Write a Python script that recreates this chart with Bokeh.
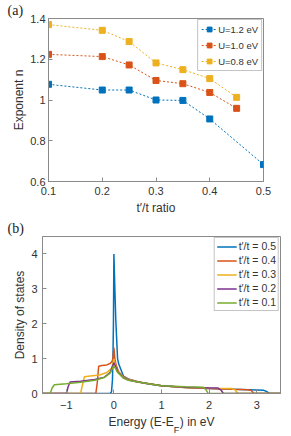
from bokeh.plotting import figure
from bokeh.layouts import column, row
from bokeh.models import (LinearAxis, FixedTicker, Legend, LegendItem, Range1d)
from bokeh.embed import file_html
from bokeh.resources import INLINE

# ---------- data panel (a) ----------
ratio_12 = [0.1, 0.2, 0.25, 0.3, 0.35, 0.4, 0.5]
n_12 = [1.077, 1.049, 1.049, 1.0, 0.998, 0.907, 0.683]
ratio_10 = [0.1, 0.2, 0.25, 0.3, 0.35, 0.4, 0.45]
n_10 = [1.224, 1.213, 1.172, 1.096, 1.08, 1.037, 0.959]
ratio_08 = [0.1, 0.2, 0.25, 0.3, 0.35, 0.4, 0.45]
n_08 = [1.37, 1.342, 1.287, 1.182, 1.149, 1.105, 1.013]
labels_a = ["U=1.2 eV", "U=1.0 eV", "U=0.8 eV"]
xticks_a = [0.1, 0.2, 0.3, 0.4, 0.5]
yticks_a = [0.6, 0.8, 1.0, 1.2, 1.4]
ytick_labels_a = ["0.6", "0.8", "1", "1.2", "1.4"]

# ---------- data panel (b) ----------
e_05 = [-1.5, -0.08, -0.05, -0.03, -0.02, -0.01, 0.0, 0.02, 0.04, 0.077, 0.1, 0.2, 0.3, 0.5, 0.7, 1.0, 1.5, 2.0, 2.5, 3.0, 3.15, 3.22, 3.27, 3.5]
d_05 = [0.0, 0.0, 0.05, 0.4, 1.0, 2.0, 4.0, 3.0, 2.1, 1.0, 0.85, 0.5, 0.42, 0.34, 0.28, 0.22, 0.17, 0.14, 0.12, 0.1, 0.09, 0.05, 0.0, 0.0]
e_04 = [-1.5, -0.38, -0.35, -0.32, -0.25, -0.15, -0.08, -0.04, -0.02, 0.0, 0.02, 0.05, 0.1, 0.2, 0.3, 0.5, 0.7, 1.0, 1.5, 2.0, 2.5, 2.8, 2.88, 2.94, 3.5]
d_04 = [0.0, 0.0, 0.3, 0.78, 0.8, 0.82, 0.86, 0.92, 1.0, 1.32, 1.0, 0.8, 0.62, 0.48, 0.41, 0.34, 0.29, 0.22, 0.17, 0.14, 0.12, 0.11, 0.09, 0.0, 0.0]
e_03 = [-1.5, -0.7, -0.66, -0.62, -0.5, -0.3, -0.15, -0.05, 0.0, 0.05, 0.1, 0.2, 0.3, 0.5, 1.0, 1.5, 2.0, 2.48, 2.55, 2.6, 3.5]
d_03 = [0.0, 0.0, 0.25, 0.48, 0.5, 0.53, 0.6, 0.72, 0.98, 0.72, 0.6, 0.47, 0.4, 0.33, 0.22, 0.17, 0.15, 0.14, 0.1, 0.0, 0.0]
e_02 = [-1.5, -1.0, -0.96, -0.92, -0.7, -0.4, -0.2, -0.08, 0.0, 0.08, 0.2, 0.3, 0.5, 1.0, 1.5, 2.0, 2.18, 2.25, 2.3, 3.5]
d_02 = [0.0, 0.0, 0.2, 0.33, 0.35, 0.4, 0.47, 0.6, 0.88, 0.62, 0.45, 0.39, 0.33, 0.22, 0.18, 0.16, 0.16, 0.1, 0.0, 0.0]
e_01 = [-1.5, -1.34, -1.3, -1.25, -1.0, -0.7, -0.4, -0.2, -0.08, 0.0, 0.08, 0.2, 0.3, 0.5, 1.0, 1.5, 1.88, 1.93, 1.98, 3.5]
d_01 = [0.0, 0.0, 0.15, 0.25, 0.28, 0.32, 0.38, 0.46, 0.58, 0.8, 0.6, 0.44, 0.38, 0.33, 0.22, 0.19, 0.18, 0.12, 0.0, 0.0]
labels_b = ["t\u2032/t = 0.5", "t\u2032/t = 0.4", "t\u2032/t = 0.3", "t\u2032/t = 0.2", "t\u2032/t = 0.1"]
xticks_b = [-1, 0, 1, 2, 3]
yticks_b = [0, 1, 2, 3, 4]

COLORS = ["#0072BD", "#D95319", "#EDB120", "#7E2F8E", "#77AC30"]
FONT = "Liberation Sans"
SERIF = "Liberation Serif"
AX = "#8a8a8a"
TXT = "#333333"


def style_axes(p, xt, yt, yoverride=None):
    for ax in p.xaxis + p.yaxis:
        ax.axis_line_color = AX
        ax.major_tick_line_color = AX
        ax.major_tick_in = 4
        ax.major_tick_out = 0
        ax.minor_tick_line_color = None
        ax.major_label_text_font = FONT
        ax.major_label_text_font_size = "11px"
        ax.major_label_text_color = TXT
        ax.axis_label_text_font = FONT
        ax.axis_label_text_font_size = "12px"
        ax.axis_label_text_font_style = "normal"
        ax.axis_label_text_color = TXT
    p.xaxis.ticker = FixedTicker(ticks=xt)
    p.yaxis.ticker = FixedTicker(ticks=yt)
    if yoverride:
        p.yaxis.major_label_overrides = yoverride
    p.xaxis.major_label_standoff = 5
    p.yaxis.major_label_standoff = 3
    p.xaxis.axis_label_standoff = 3
    p.xgrid.visible = False
    p.ygrid.visible = False
    p.outline_line_color = AX


def style_title(p, txt, offset):
    p.title.text = txt
    p.title.align = "left"
    p.title.offset = offset
    p.title.standoff = 1
    p.title.text_font = SERIF
    p.title.text_font_size = "14px"
    p.title.text_font_style = "normal"
    p.title.text_color = "#222222"


# ---------- panel (a) ----------
pa = figure(frame_width=215, frame_height=163, output_backend="svg", toolbar_location=None,
            x_range=Range1d(0.1, 0.5), y_range=Range1d(0.6, 1.4),
            min_border_left=48, min_border_right=10, min_border_top=0, min_border_bottom=37)
pa.xaxis.axis_label = "t\u2032/t ratio"
pa.yaxis.axis_label = "Exponent n"
style_axes(pa, xticks_a, yticks_a, {v: s for v, s in zip(yticks_a, ytick_labels_a)})
pa.yaxis.axis_label_standoff = 1
style_title(pa, "(a)", -41)

items_a = []
for xs, ys, c, lab in zip([ratio_12, ratio_10, ratio_08], [n_12, n_10, n_08], COLORS[:3], labels_a):
    r1 = pa.line(xs, ys, line_color=c, line_width=1, line_dash="2 2")
    r2 = pa.scatter(xs, ys, marker="square", size=6, fill_color=c, line_color=c)
    items_a.append(LegendItem(label=lab, renderers=[r1, r2]))
leg_a = Legend(items=items_a, location="top_right", label_text_font=FONT,
               label_text_font_size="9.5px", label_text_color=TXT,
               border_line_color=AX, glyph_width=16, glyph_height=12,
               label_height=12, spacing=4, padding=3, margin=1,
               label_standoff=1, background_fill_alpha=1)
pa.add_layout(leg_a)

# ---------- panel (b) ----------
pb = figure(frame_width=238, frame_height=157, output_backend="svg", toolbar_location=None,
            x_range=Range1d(-1.5, 3.5), y_range=Range1d(0, 4.5),
            min_border_left=42, min_border_right=3, min_border_top=0, min_border_bottom=0)
pb.yaxis.axis_label = "Density of states"
pb.xaxis.axis_label = "Energy (E-E\u2002) in eV"
style_axes(pb, xticks_b, yticks_b)
pb.yaxis.axis_label_standoff = 1
pb.yaxis.major_label_standoff = 5
pb.xaxis.major_label_standoff = 7
style_title(pb, "(b)", -35)
sub_axis = LinearAxis(ticker=FixedTicker(ticks=[]), axis_line_color=None,
                      major_tick_line_color=None, minor_tick_line_color=None,
                      axis_label="\u00a0" * 12 + "F", axis_label_text_font=FONT,
                      axis_label_text_font_size="9px", axis_label_text_font_style="normal",
                      axis_label_text_color=TXT, axis_label_standoff=-7)
pb.add_layout(sub_axis, "below")

items_b = []
for xs, ys, c, lab in zip([e_05, e_04, e_03, e_02, e_01], [d_05, d_04, d_03, d_02, d_01], COLORS, labels_b):
    r = pb.line(xs, ys, line_color=c, line_width=1.5)
    items_b.append(LegendItem(label=lab, renderers=[r]))
leg_b = Legend(items=items_b, location="top_right", label_text_font=FONT,
               label_text_font_size="10.5px", label_text_color=TXT,
               border_line_color=AX, glyph_width=20, glyph_height=11,
               label_height=11, spacing=2, padding=2, margin=1,
               label_standoff=2, background_fill_alpha=1)
pb.add_layout(leg_b)

out = column(row(pa), row(pb))
open("out.html", "w").write(file_html(out, INLINE))
